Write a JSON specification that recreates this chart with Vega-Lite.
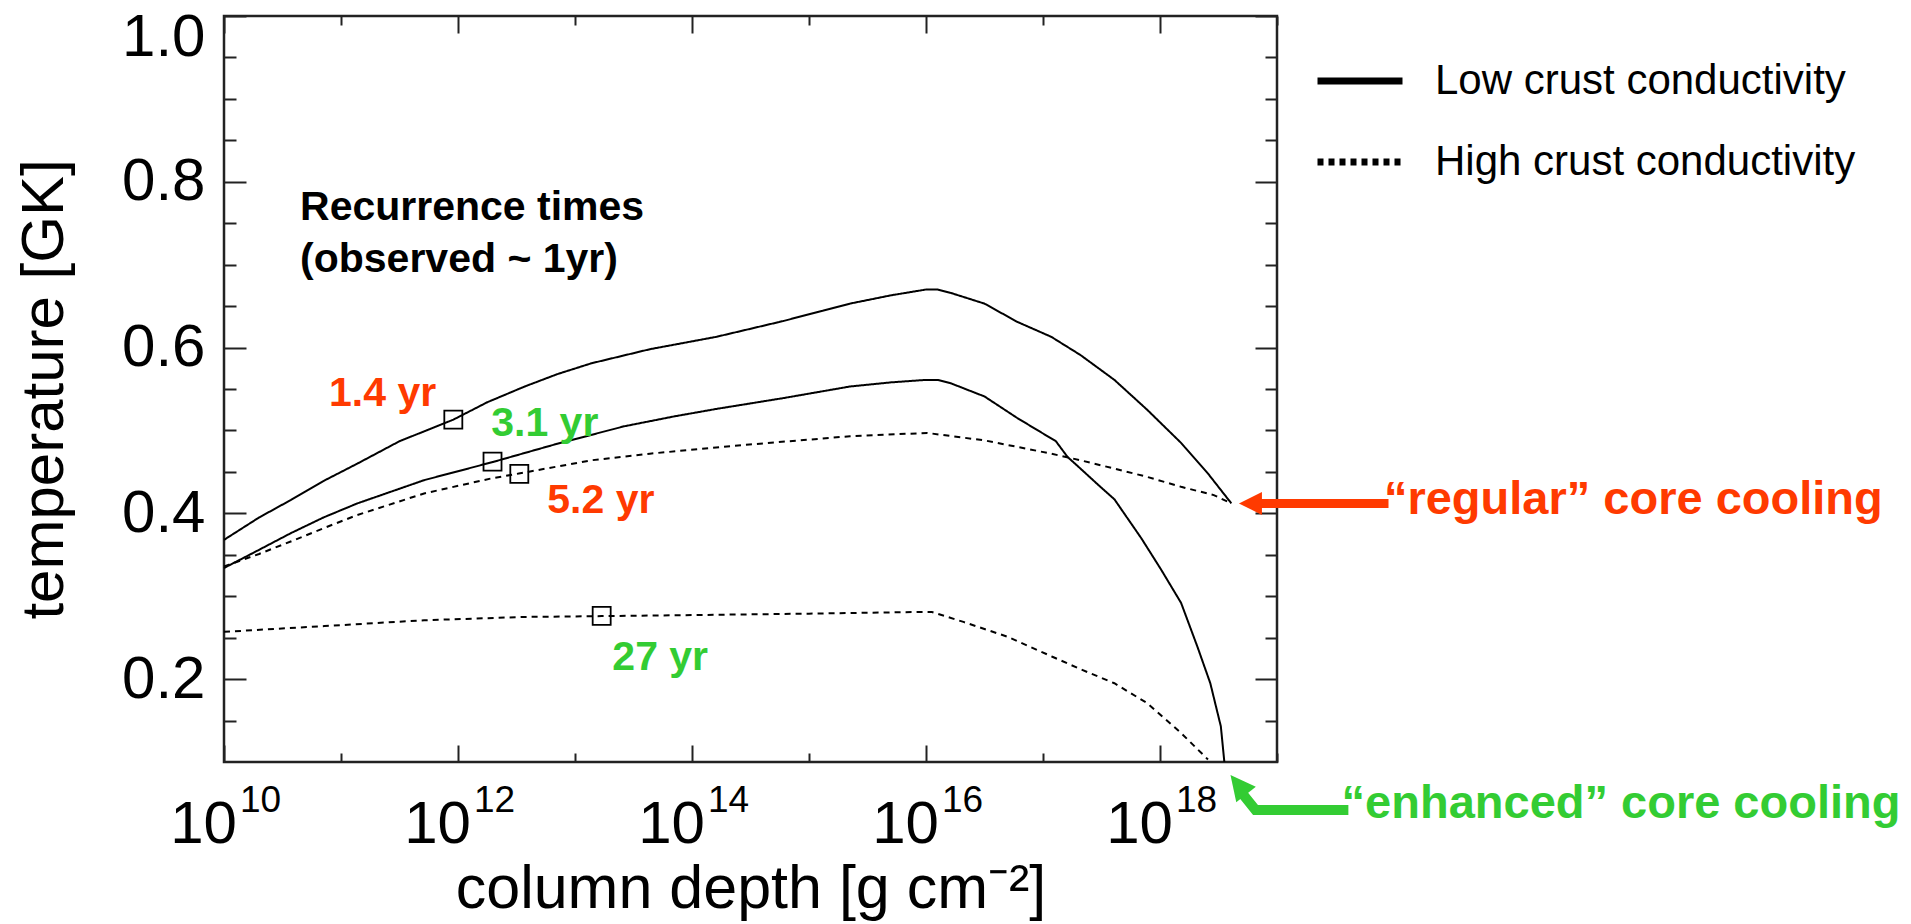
{
  "$schema": "https://vega.github.io/schema/vega-lite/v6.json",
  "width": 1053,
  "height": 746,
  "autosize": "none",
  "padding": {"left": 224, "top": 16, "right": 634, "bottom": 162},
  "background": "white",
  "config": {
    "view": {"stroke": "#222222", "strokeWidth": 2.5},
    "font": "Liberation Sans",
    "axis": {"domain": false, "grid": false, "tickColor": "#222222", "tickWidth": 2, "labelFont": "Liberation Sans", "titleFont": "Liberation Sans", "labelColor": "#000000", "titleColor": "#000000", "titleFontWeight": "normal", "labelOverlap": false}
  },
  "datasets": {
    "curves": [
      {"conductivity": "Low crust conductivity", "core": "regular", "log10_depth": 10.0, "T": 0.368},
      {"conductivity": "Low crust conductivity", "core": "regular", "log10_depth": 10.3, "T": 0.395},
      {"conductivity": "Low crust conductivity", "core": "regular", "log10_depth": 10.57, "T": 0.416},
      {"conductivity": "Low crust conductivity", "core": "regular", "log10_depth": 10.85, "T": 0.439},
      {"conductivity": "Low crust conductivity", "core": "regular", "log10_depth": 11.14, "T": 0.46},
      {"conductivity": "Low crust conductivity", "core": "regular", "log10_depth": 11.5, "T": 0.487},
      {"conductivity": "Low crust conductivity", "core": "regular", "log10_depth": 11.96, "T": 0.513},
      {"conductivity": "Low crust conductivity", "core": "regular", "log10_depth": 12.25, "T": 0.534},
      {"conductivity": "Low crust conductivity", "core": "regular", "log10_depth": 12.57, "T": 0.553},
      {"conductivity": "Low crust conductivity", "core": "regular", "log10_depth": 12.85, "T": 0.568},
      {"conductivity": "Low crust conductivity", "core": "regular", "log10_depth": 13.14, "T": 0.581},
      {"conductivity": "Low crust conductivity", "core": "regular", "log10_depth": 13.64, "T": 0.598},
      {"conductivity": "Low crust conductivity", "core": "regular", "log10_depth": 14.21, "T": 0.613},
      {"conductivity": "Low crust conductivity", "core": "regular", "log10_depth": 14.78, "T": 0.632},
      {"conductivity": "Low crust conductivity", "core": "regular", "log10_depth": 15.35, "T": 0.653},
      {"conductivity": "Low crust conductivity", "core": "regular", "log10_depth": 15.7, "T": 0.663},
      {"conductivity": "Low crust conductivity", "core": "regular", "log10_depth": 16.0, "T": 0.67},
      {"conductivity": "Low crust conductivity", "core": "regular", "log10_depth": 16.1, "T": 0.67},
      {"conductivity": "Low crust conductivity", "core": "regular", "log10_depth": 16.21, "T": 0.666},
      {"conductivity": "Low crust conductivity", "core": "regular", "log10_depth": 16.5, "T": 0.653},
      {"conductivity": "Low crust conductivity", "core": "regular", "log10_depth": 16.78, "T": 0.631},
      {"conductivity": "Low crust conductivity", "core": "regular", "log10_depth": 17.07, "T": 0.613},
      {"conductivity": "Low crust conductivity", "core": "regular", "log10_depth": 17.32, "T": 0.591},
      {"conductivity": "Low crust conductivity", "core": "regular", "log10_depth": 17.61, "T": 0.561},
      {"conductivity": "Low crust conductivity", "core": "regular", "log10_depth": 17.89, "T": 0.525},
      {"conductivity": "Low crust conductivity", "core": "regular", "log10_depth": 18.18, "T": 0.485},
      {"conductivity": "Low crust conductivity", "core": "regular", "log10_depth": 18.41, "T": 0.448},
      {"conductivity": "Low crust conductivity", "core": "regular", "log10_depth": 18.61, "T": 0.412},

      {"conductivity": "Low crust conductivity", "core": "enhanced", "log10_depth": 10.0, "T": 0.334},
      {"conductivity": "Low crust conductivity", "core": "enhanced", "log10_depth": 10.3, "T": 0.356},
      {"conductivity": "Low crust conductivity", "core": "enhanced", "log10_depth": 10.57, "T": 0.376},
      {"conductivity": "Low crust conductivity", "core": "enhanced", "log10_depth": 10.85, "T": 0.395},
      {"conductivity": "Low crust conductivity", "core": "enhanced", "log10_depth": 11.14, "T": 0.412},
      {"conductivity": "Low crust conductivity", "core": "enhanced", "log10_depth": 11.71, "T": 0.44},
      {"conductivity": "Low crust conductivity", "core": "enhanced", "log10_depth": 12.3, "T": 0.462},
      {"conductivity": "Low crust conductivity", "core": "enhanced", "log10_depth": 12.85, "T": 0.484},
      {"conductivity": "Low crust conductivity", "core": "enhanced", "log10_depth": 13.42, "T": 0.505},
      {"conductivity": "Low crust conductivity", "core": "enhanced", "log10_depth": 13.85, "T": 0.517},
      {"conductivity": "Low crust conductivity", "core": "enhanced", "log10_depth": 14.21, "T": 0.526},
      {"conductivity": "Low crust conductivity", "core": "enhanced", "log10_depth": 14.78, "T": 0.539},
      {"conductivity": "Low crust conductivity", "core": "enhanced", "log10_depth": 15.35, "T": 0.553},
      {"conductivity": "Low crust conductivity", "core": "enhanced", "log10_depth": 15.7, "T": 0.558},
      {"conductivity": "Low crust conductivity", "core": "enhanced", "log10_depth": 16.0, "T": 0.561},
      {"conductivity": "Low crust conductivity", "core": "enhanced", "log10_depth": 16.1, "T": 0.561},
      {"conductivity": "Low crust conductivity", "core": "enhanced", "log10_depth": 16.21, "T": 0.557},
      {"conductivity": "Low crust conductivity", "core": "enhanced", "log10_depth": 16.5, "T": 0.541},
      {"conductivity": "Low crust conductivity", "core": "enhanced", "log10_depth": 16.78, "T": 0.515},
      {"conductivity": "Low crust conductivity", "core": "enhanced", "log10_depth": 17.11, "T": 0.487},
      {"conductivity": "Low crust conductivity", "core": "enhanced", "log10_depth": 17.21, "T": 0.468},
      {"conductivity": "Low crust conductivity", "core": "enhanced", "log10_depth": 17.32, "T": 0.454},
      {"conductivity": "Low crust conductivity", "core": "enhanced", "log10_depth": 17.49, "T": 0.432},
      {"conductivity": "Low crust conductivity", "core": "enhanced", "log10_depth": 17.61, "T": 0.417},
      {"conductivity": "Low crust conductivity", "core": "enhanced", "log10_depth": 17.84, "T": 0.37},
      {"conductivity": "Low crust conductivity", "core": "enhanced", "log10_depth": 18.01, "T": 0.332},
      {"conductivity": "Low crust conductivity", "core": "enhanced", "log10_depth": 18.18, "T": 0.292},
      {"conductivity": "Low crust conductivity", "core": "enhanced", "log10_depth": 18.32, "T": 0.239},
      {"conductivity": "Low crust conductivity", "core": "enhanced", "log10_depth": 18.43, "T": 0.195},
      {"conductivity": "Low crust conductivity", "core": "enhanced", "log10_depth": 18.52, "T": 0.143},
      {"conductivity": "Low crust conductivity", "core": "enhanced", "log10_depth": 18.55, "T": 0.1},

      {"conductivity": "High crust conductivity", "core": "regular", "log10_depth": 10.0, "T": 0.336},
      {"conductivity": "High crust conductivity", "core": "regular", "log10_depth": 10.3, "T": 0.351},
      {"conductivity": "High crust conductivity", "core": "regular", "log10_depth": 10.57, "T": 0.366},
      {"conductivity": "High crust conductivity", "core": "regular", "log10_depth": 10.85, "T": 0.382},
      {"conductivity": "High crust conductivity", "core": "regular", "log10_depth": 11.14, "T": 0.398},
      {"conductivity": "High crust conductivity", "core": "regular", "log10_depth": 11.71, "T": 0.424},
      {"conductivity": "High crust conductivity", "core": "regular", "log10_depth": 12.28, "T": 0.442},
      {"conductivity": "High crust conductivity", "core": "regular", "log10_depth": 12.52, "T": 0.448},
      {"conductivity": "High crust conductivity", "core": "regular", "log10_depth": 13.14, "T": 0.464},
      {"conductivity": "High crust conductivity", "core": "regular", "log10_depth": 13.64, "T": 0.472},
      {"conductivity": "High crust conductivity", "core": "regular", "log10_depth": 14.49, "T": 0.483},
      {"conductivity": "High crust conductivity", "core": "regular", "log10_depth": 15.35, "T": 0.493},
      {"conductivity": "High crust conductivity", "core": "regular", "log10_depth": 16.01, "T": 0.497},
      {"conductivity": "High crust conductivity", "core": "regular", "log10_depth": 16.5, "T": 0.488},
      {"conductivity": "High crust conductivity", "core": "regular", "log10_depth": 17.07, "T": 0.472},
      {"conductivity": "High crust conductivity", "core": "regular", "log10_depth": 17.32, "T": 0.464},
      {"conductivity": "High crust conductivity", "core": "regular", "log10_depth": 17.61, "T": 0.454},
      {"conductivity": "High crust conductivity", "core": "regular", "log10_depth": 17.89, "T": 0.444},
      {"conductivity": "High crust conductivity", "core": "regular", "log10_depth": 18.18, "T": 0.432},
      {"conductivity": "High crust conductivity", "core": "regular", "log10_depth": 18.46, "T": 0.422},
      {"conductivity": "High crust conductivity", "core": "regular", "log10_depth": 18.61, "T": 0.412},

      {"conductivity": "High crust conductivity", "core": "enhanced", "log10_depth": 10.0, "T": 0.257},
      {"conductivity": "High crust conductivity", "core": "enhanced", "log10_depth": 10.86, "T": 0.264},
      {"conductivity": "High crust conductivity", "core": "enhanced", "log10_depth": 11.71, "T": 0.271},
      {"conductivity": "High crust conductivity", "core": "enhanced", "log10_depth": 12.57, "T": 0.275},
      {"conductivity": "High crust conductivity", "core": "enhanced", "log10_depth": 13.23, "T": 0.276},
      {"conductivity": "High crust conductivity", "core": "enhanced", "log10_depth": 13.85, "T": 0.277},
      {"conductivity": "High crust conductivity", "core": "enhanced", "log10_depth": 15.0, "T": 0.279},
      {"conductivity": "High crust conductivity", "core": "enhanced", "log10_depth": 15.94, "T": 0.281},
      {"conductivity": "High crust conductivity", "core": "enhanced", "log10_depth": 16.05, "T": 0.281},
      {"conductivity": "High crust conductivity", "core": "enhanced", "log10_depth": 16.32, "T": 0.269},
      {"conductivity": "High crust conductivity", "core": "enhanced", "log10_depth": 16.7, "T": 0.251},
      {"conductivity": "High crust conductivity", "core": "enhanced", "log10_depth": 17.08, "T": 0.227},
      {"conductivity": "High crust conductivity", "core": "enhanced", "log10_depth": 17.32, "T": 0.212},
      {"conductivity": "High crust conductivity", "core": "enhanced", "log10_depth": 17.61, "T": 0.195},
      {"conductivity": "High crust conductivity", "core": "enhanced", "log10_depth": 17.89, "T": 0.171},
      {"conductivity": "High crust conductivity", "core": "enhanced", "log10_depth": 18.18, "T": 0.135},
      {"conductivity": "High crust conductivity", "core": "enhanced", "log10_depth": 18.41, "T": 0.103}
    ],
    "recurrence": [
      {"recurrence": "1.4 yr", "core": "regular", "log10_depth": 11.96, "T": 0.513},
      {"recurrence": "3.1 yr", "core": "enhanced", "log10_depth": 12.295, "T": 0.4624},
      {"recurrence": "5.2 yr", "core": "regular", "log10_depth": 12.524, "T": 0.4475},
      {"recurrence": "27 yr", "core": "enhanced", "log10_depth": 13.228, "T": 0.2762}
    ],
    "notes": [
      {"text": "Recurrence times", "core": "none", "log10_depth": 10.65, "T": 0.754},
      {"text": "(observed ~ 1yr)", "core": "none", "log10_depth": 10.65, "T": 0.691},
      {"text": "1.4 yr", "core": "regular", "log10_depth": 10.898, "T": 0.5296},
      {"text": "3.1 yr", "core": "enhanced", "log10_depth": 12.284, "T": 0.4934},
      {"text": "5.2 yr", "core": "regular", "log10_depth": 12.763, "T": 0.401},
      {"text": "27 yr", "core": "enhanced", "log10_depth": 13.319, "T": 0.211}
    ],
    "callouts": [
      {"text": "“regular” core cooling", "core": "regular", "log10_depth": 19.914, "T": 0.399},
      {"text": "“enhanced” core cooling", "core": "enhanced", "log10_depth": 19.552, "T": 0.0326}
    ],
    "exponents": [
      {"decade": 10, "exp": "10"},
      {"decade": 12, "exp": "12"},
      {"decade": 14, "exp": "14"},
      {"decade": 16, "exp": "16"},
      {"decade": 18, "exp": "18"}
    ]
  },
  "layer": [
    {
      "data": {"name": "curves"},
      "mark": {"type": "line", "color": "black", "strokeWidth": 2},
      "encoding": {
        "x": {
          "field": "log10_depth", "type": "quantitative",
          "scale": {"domain": [10, 19], "nice": false, "zero": false},
          "axis": {
            "orient": "bottom",
            "values": [10, 11, 12, 13, 14, 15, 16, 17, 18, 19],
            "labelExpr": "datum.value % 2 === 0 && datum.value < 19 ? '10' : ''",
            "tickSize": {"condition": {"test": "datum.value % 2 === 0", "value": -17}, "value": -9},
            "labelFontSize": 60,
            "labelOffset": -21,
            "labelPadding": 97,
            "labelBaseline": "alphabetic",
            "labelFlush": false,
            "title": "column depth [g cm⁻²]",
            "titleFontSize": 61,
            "titleBaseline": "alphabetic",
            "titleY": 145
          }
        },
        "y": {
          "field": "T", "type": "quantitative",
          "scale": {"domain": [0.1, 1.0], "nice": false, "zero": false},
          "axis": {
            "orient": "left",
            "values": [0.15, 0.2, 0.25, 0.3, 0.35, 0.4, 0.45, 0.5, 0.55, 0.6, 0.65, 0.7, 0.75, 0.8, 0.85, 0.9, 0.95, 1.0],
            "labelExpr": "abs(datum.value*5-round(datum.value*5)) < 0.001 ? format(datum.value, '.1f') : ''",
            "tickSize": {"condition": {"test": "abs(datum.value*5-round(datum.value*5)) < 0.001", "value": -22}, "value": -12},
            "labelFontSize": 60,
            "labelPadding": 41,
            "labelFlush": true,
            "labelFlushOffset": 8,
            "title": "temperature [GK]",
            "titleFontSize": 60,
            "titlePadding": 46
          }
        },
        "strokeDash": {
          "field": "conductivity", "type": "nominal",
          "scale": {"domain": ["Low crust conductivity", "High crust conductivity"], "range": [[1, 0], [6, 5]]},
          "legend": {
            "orient": "none", "legendX": 1090, "legendY": 19, "title": null,
            "symbolType": "stroke", "symbolSize": 7225, "symbolStrokeWidth": 7, "symbolStrokeColor": "black",
            "labelFont": "Liberation Sans", "labelFontSize": 42, "labelColor": "black", "labelOffset": 29,
            "rowPadding": 14, "padding": 0, "labelLimit": 1000
          }
        },
        "detail": {"field": "core", "type": "nominal"}
      }
    },
    {
      "data": {"name": "recurrence"},
      "mark": {"type": "point", "shape": "square", "size": 324, "filled": false, "stroke": "black", "strokeWidth": 1.8, "opacity": 1},
      "encoding": {
        "x": {
          "field": "log10_depth", "type": "quantitative",
          "axis": {
            "orient": "top", "values": [10, 11, 12, 13, 14, 15, 16, 17, 18, 19], "labels": false, "title": null,
            "tickSize": {"condition": {"test": "datum.value % 2 === 0", "value": -17}, "value": -9}
          }
        },
        "y": {
          "field": "T", "type": "quantitative",
          "axis": {
            "orient": "right",
            "values": [0.15, 0.2, 0.25, 0.3, 0.35, 0.4, 0.45, 0.5, 0.55, 0.6, 0.65, 0.7, 0.75, 0.8, 0.85, 0.9, 0.95, 1.0],
            "labels": false, "title": null,
            "tickSize": {"condition": {"test": "abs(datum.value*5-round(datum.value*5)) < 0.001", "value": -22}, "value": -12}
          }
        }
      }
    },
    {
      "data": {"name": "exponents"},
      "mark": {"type": "text", "align": "left", "baseline": "alphabetic", "dx": 16, "dy": 50, "fontSize": 37, "font": "Liberation Sans", "color": "black"},
      "encoding": {
        "x": {"field": "decade", "type": "quantitative", "axis": null},
        "y": {"datum": 0.1, "type": "quantitative", "axis": null},
        "text": {"field": "exp", "type": "nominal"}
      }
    },
    {
      "data": {"name": "notes"},
      "mark": {"type": "text", "align": "left", "baseline": "alphabetic", "fontSize": 41, "fontWeight": "bold", "font": "Liberation Sans"},
      "encoding": {
        "x": {"field": "log10_depth", "type": "quantitative", "axis": null},
        "y": {"field": "T", "type": "quantitative", "axis": null},
        "text": {"field": "text", "type": "nominal"},
        "color": {"field": "core", "type": "nominal", "scale": {"domain": ["regular", "enhanced", "none"], "range": ["#FF3A00", "#33CC33", "#000000"]}, "legend": null}
      }
    },
    {
      "data": {"name": "callouts"},
      "mark": {"type": "text", "align": "left", "baseline": "alphabetic", "fontSize": 47, "fontWeight": "bold", "font": "Liberation Sans"},
      "encoding": {
        "x": {"field": "log10_depth", "type": "quantitative", "axis": null},
        "y": {"field": "T", "type": "quantitative", "axis": null},
        "text": {"field": "text", "type": "nominal"},
        "color": {"field": "core", "type": "nominal", "legend": null}
      }
    },
    {
      "data": {"values": [{"core": "regular", "from": 18.85, "to": 19.953, "T": 0.412}]},
      "mark": {"type": "rule", "strokeWidth": 9},
      "encoding": {
        "x": {"field": "from", "type": "quantitative", "axis": null},
        "x2": {"field": "to"},
        "y": {"field": "T", "type": "quantitative", "axis": null},
        "color": {"field": "core", "type": "nominal", "legend": null}
      }
    },
    {
      "data": {"values": [{"core": "regular", "log10_depth": 18.773, "T": 0.412}]},
      "mark": {"type": "point", "shape": "M0,-1L1,1L-1,1Z", "angle": 270, "size": 529, "filled": true, "opacity": 1},
      "encoding": {
        "x": {"field": "log10_depth", "type": "quantitative", "axis": null},
        "y": {"field": "T", "type": "quantitative", "axis": null},
        "color": {"field": "core", "type": "nominal", "legend": null}
      }
    },
    {
      "data": {"values": [
        {"core": "enhanced", "seq": 1, "log10_depth": 19.61, "T": 0.0422},
        {"core": "enhanced", "seq": 2, "log10_depth": 18.816, "T": 0.0422},
        {"core": "enhanced", "seq": 3, "log10_depth": 18.692, "T": 0.064}
      ]},
      "mark": {"type": "line", "strokeWidth": 10, "strokeJoin": "miter", "strokeCap": "butt"},
      "encoding": {
        "x": {"field": "log10_depth", "type": "quantitative", "axis": null},
        "y": {"field": "T", "type": "quantitative", "axis": null},
        "order": {"field": "seq", "type": "quantitative"},
        "color": {"field": "core", "type": "nominal", "legend": null}
      }
    },
    {
      "data": {"values": [{"core": "enhanced", "log10_depth": 18.669, "T": 0.0726}]},
      "mark": {"type": "point", "shape": "M0,-1L1,1L-1,1Z", "angle": 321.5, "size": 625, "filled": true, "opacity": 1},
      "encoding": {
        "x": {"field": "log10_depth", "type": "quantitative", "axis": null},
        "y": {"field": "T", "type": "quantitative", "axis": null},
        "color": {"field": "core", "type": "nominal", "legend": null}
      }
    }
  ],
  "resolve": {"axis": {"x": "independent", "y": "independent"}}
}
